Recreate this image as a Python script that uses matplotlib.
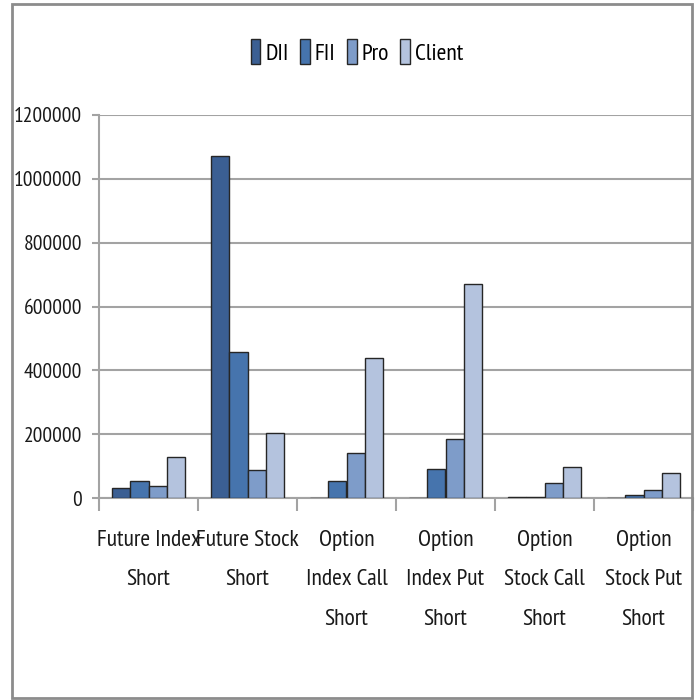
import matplotlib
matplotlib.use("Agg")
import matplotlib.pyplot as plt
from matplotlib.patches import Rectangle
from matplotlib.ticker import FixedLocator
import numpy as np

categories = ["Future Index\nShort", "Future Stock\nShort", "Option\nIndex Call\nShort",
              "Option\nIndex Put\nShort", "Option\nStock Call\nShort", "Option\nStock Put\nShort"]
series = ["DII", "FII", "Pro", "Client"]
dii = [32000, 1072000, 0, 0, 2000, 0]
fii = [53000, 457000, 53000, 91000, 2000, 9000]
pro = [37000, 87000, 141000, 184000, 48000, 25000]
client = [129000, 203000, 439000, 671000, 97000, 78000]
colors = ["#3b5f93", "#4674ad", "#7e9cc9", "#b4c3de"]
yticks = [0, 200000, 400000, 600000, 800000, 1000000, 1200000]

plt.rcParams['font.family'] = ['PT Sans Narrow', 'DejaVu Sans']
grid_col = "#a3a3a3"
txt_col = "#1a1a1a"

fig = plt.figure(figsize=(6.99, 7.0), dpi=100)
ax = fig.add_axes([99 / 699, 1 - 498 / 700, 594 / 699, 383 / 700])

x = np.arange(len(categories))
w = 0.182
for i, (name, vals) in enumerate(zip(series, [dii, fii, pro, client])):
    ax.bar(x + (i - 1.5) * w, vals, w, color=colors[i], edgecolor="#262626",
           linewidth=1.0, label=name, zorder=3)

ax.set_xlim(-0.5, 5.5)
ax.set_ylim(0, 1200000)
ax.set_yticks(yticks)
ax.set_yticklabels([str(v) for v in yticks], fontsize=15.5, color=txt_col)
ax.yaxis.grid(True, color=grid_col, linewidth=1.5, zorder=0)

# boundaries between groups carry the tick marks, labels sit at group centres
ax.xaxis.set_major_locator(FixedLocator(np.arange(-0.5, 6.0, 1.0)))
ax.xaxis.set_minor_locator(FixedLocator(x))
ax.set_xticklabels([""] * 7)
ax.set_xticklabels(categories, minor=True, fontsize=17, color=txt_col,
                   linespacing=2.15)
ax.tick_params(axis="x", which="major", length=9, width=1.5, color=grid_col)
ax.tick_params(axis="x", which="minor", length=0, pad=23)
ax.tick_params(axis="y", length=5, width=1.5, color=grid_col, pad=7)

for s in ["top", "right"]:
    ax.spines[s].set_visible(False)
for s in ["left", "bottom"]:
    ax.spines[s].set_color(grid_col)
    ax.spines[s].set_linewidth(1.5)

fig.legend(loc="center", bbox_to_anchor=(357 / 699, 1 - 52 / 700), ncol=4,
           frameon=False, fontsize=17, handlelength=0.4, handleheight=1.25,
           handletextpad=0.2, columnspacing=0.5)

fig.patches.append(Rectangle((12 / 699, 2 / 700), 680 / 699, 694 / 700,
                             transform=fig.transFigure, fill=False,
                             edgecolor="#8c8c8c", linewidth=2))

fig.savefig("out.png", dpi=100)
